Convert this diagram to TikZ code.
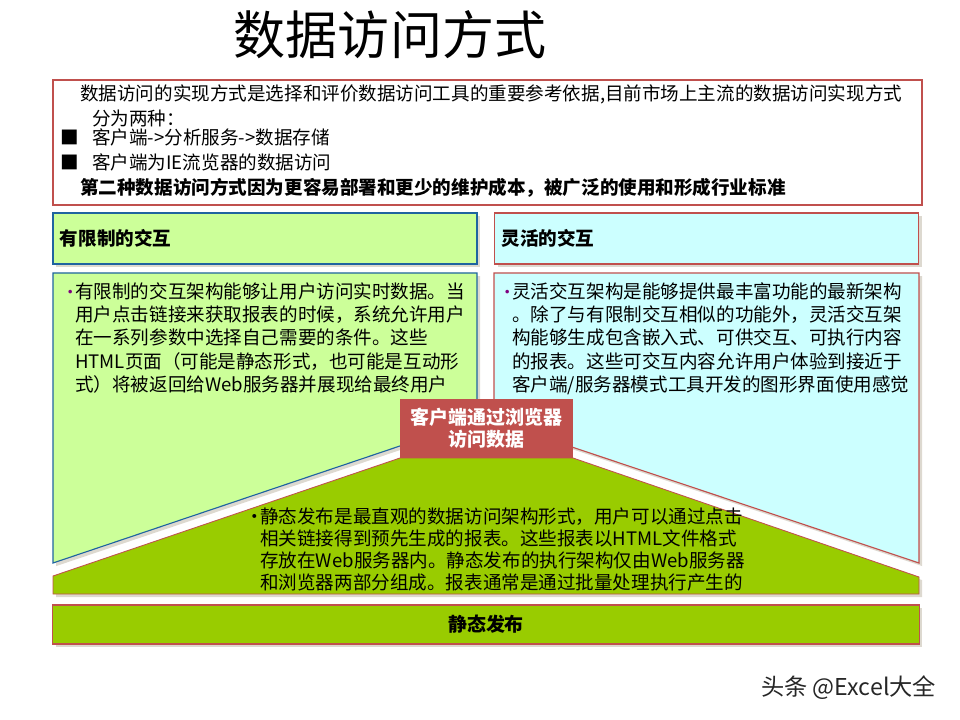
\documentclass[tikz,border=0pt]{standalone}
\usepackage{fontspec}
\setmainfont{Noto Sans CJK SC}
\usetikzlibrary{positioning, shadows}
\definecolor{boxred}{RGB}{192,80,77}
\definecolor{boxblue}{RGB}{31,100,160}
\definecolor{limgrn}{RGB}{204,255,153}
\definecolor{lcyan}{RGB}{204,255,255}
\definecolor{pubgrn}{RGB}{153,204,0}
\definecolor{shgray}{RGB}{221,217,208}
\definecolor{bulpur}{RGB}{128,0,128}
\newcommand{\purbul}{\llap{\textcolor{bulpur}{\large\textbullet}\kern-2.5pt}}
\tikzset{
  boxshadow/.style = {drop shadow={shadow xshift=2.2pt, shadow yshift=-2.2pt,
                      fill=shgray, opacity=1}},
  hdrbox/.style    = {boxshadow, line width=0.8pt, minimum width=10.6cm,
                      minimum height=1.275cm, inner xsep=0.175cm,
                      text width=10.25cm, align=left,
                      font=\fontsize{13.2}{16}\selectfont\bfseries},
  toptext/.style   = {anchor=west, inner sep=0pt,
                      font=\fontsize{13.2}{16}\selectfont},
  bodytext/.style  = {anchor=north west, inner sep=0pt, align=left,
                      font=\fontsize{13.2}{16.6}\selectfont},
}

\begin{document}
\begin{tikzpicture}[x=0.025cm, y=-0.025cm]
  \useasboundingbox (0,0) rectangle (960,720);
  % title
  \node[font=\fontsize{37}{40}\selectfont] (title) at (390,35) {数据访问方式};
  % top box
  \draw[boxred, line width=1.4pt, fill=white] (53,80) rectangle (922,205);
  \node[toptext] (t1) at (80,94)
    {数据访问的实现方式是选择和评价数据访问工具的重要参考依据,目前市场上主流的数据访问实现方式};
  \node[toptext] (t2) at (92,118) {分为两种：};
  \node[toptext, anchor=center] (sq1) at (70,137) {■};
  \node[toptext] (t3) at (92,137) {客户端->分析服务->数据存储};
  \node[toptext, anchor=center] (sq2) at (70,162) {■};
  \node[toptext] (t4) at (92,162) {客户端为IE流览器的数据访问};
  \node[toptext, font=\fontsize{13.2}{16}\selectfont\bfseries] (t5) at (80,188)
    {第二种数据访问方式因为更容易部署和更少的维护成本，被广泛的使用和形成行业标准};
  % headers
  \node[hdrbox, fill=limgrn, draw=boxblue] (lhead) at (265,238.5) {有限制的交互};
  \node[hdrbox, fill=lcyan, draw=boxred] (rhead) at (706.5,238.5) {灵活的交互};
  % side panels
  \draw[boxshadow, fill=limgrn, draw=boxblue, line width=0.8pt]
    (53,273) -- (477,273) -- (477,420) -- (53,563) -- cycle;
  \draw[boxshadow, fill=lcyan, draw=boxred, line width=0.8pt]
    (494,273) -- (919,273) -- (919,563) -- (494,421) -- cycle;
  \node[bodytext] (lbody) at (75,282)
    {\purbul 有限制的交互架构能够让用户访问实时数据。当\\
     用户点击链接来获取报表的时候，系统允许用户\\
     在一系列参数中选择自己需要的条件。这些\\
     HTML页面（可能是静态形式，也可能是互动形\\
     式）将被返回给Web服务器并展现给最终用户};
  \node[bodytext] (rbody) at (512,282)
    {\purbul 灵活交互架构是能够提供最丰富功能的最新架构\\
     。除了与有限制交互相似的功能外，灵活交互架\\
     构能够生成包含嵌入式、可供交互、可执行内容\\
     的报表。这些可交互内容允许用户体验到接近于\\
     客户端/服务器模式工具开发的图形界面使用感觉};
  % static publishing
  \draw[boxshadow, fill=pubgrn, draw=boxred, line width=0.6pt]
    (53,576) -- (400,458) -- (573,458) -- (919,577) -- (919,594) -- (53,594) -- cycle;
  \node[fill=boxred, minimum width=4.325cm, minimum height=1.475cm, align=center,
        text=white, font=\fontsize{13.5}{15.6}\selectfont\bfseries] (cli) at (486.5,428.5)
    {客户端通过浏览器\\访问数据};
  \node[bodytext, font=\fontsize{13.2}{15.6}\selectfont] (pbody) at (260,508)
    {\llap{\textbullet\kern-2.5pt}静态发布是最直观的数据访问架构形式，用户可以通过点击\\
     相关链接得到预先生成的报表。这些报表以HTML文件格式\\
     存放在Web服务器内。静态发布的执行架构仅由Web服务器\\
     和浏览器两部分组成。报表通常是通过批量处理执行产生的};
  \node[boxshadow, fill=pubgrn, draw=boxred, line width=0.8pt, minimum width=21.65cm,
        minimum height=0.975cm, font=\fontsize{13.5}{16}\selectfont\bfseries]
    (pub) at (486,624.5) {静态发布};
  % watermark
  \node[anchor=east, text=black!85, font=\fontsize{16.5}{18}\selectfont] (wm)
    at (941,688) {头条 @Excel大全};
\end{tikzpicture}
\end{document}
